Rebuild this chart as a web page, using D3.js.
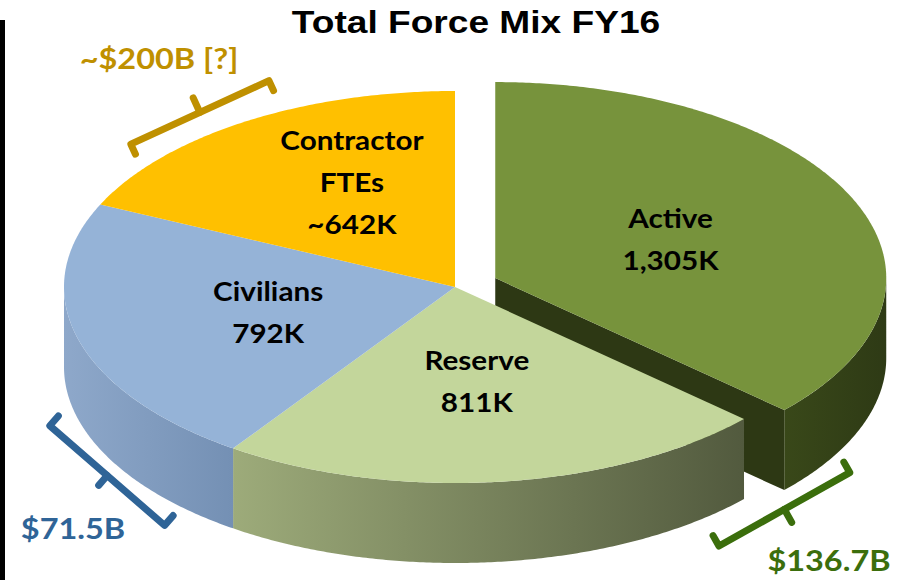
<!DOCTYPE html>
<html>
<head>
<meta charset="utf-8">
<script src="https://cdn.jsdelivr.net/npm/d3@7/dist/d3.min.js"></script>
<style>
  html, body { margin: 0; padding: 0; background: #fff; }
  svg { display: block; }
</style>
</head>
<body>
<svg id="chart" width="908" height="580"></svg>
<script>
// ---- data ----
const titleText = "Total Force Mix FY16";
const categories = ["Active", "Reserve", "Civilians", "Contractor FTEs"];
const nameLines = [["Active"], ["Reserve"], ["Civilians"], ["Contractor", "FTEs"]];
const personnelK = [1305, 811, 792, 642];
const valueLabels = ["1,305K", "811K", "792K", "~642K"];
const costLabels = ["$136.7B", null, "$71.5B", "~$200B [?]"];

// ---- styles ----
const topColors = ["#77933C", "#C3D69B", "#95B3D7", "#FFC000"];
const wallColors = [["#394819", "#2e3a15"], ["#9dab7a", "#525a3e"], ["#8ea8ca", "#7490b4"], ["#e6ad00", "#c79600"]];
const innerFaceColor = "#2d3814";
const costColors = ["#3B6E0C", null, "#2F6497", "#BF9000"];

// ---- layout ----
const cx = 455, cy = 287, rx = 391, ry = 196, depth = 80;
const explodeBy = [44, 0, 0, 0];
const labelRadius = 0.49;
const labelNudge = [[0, 0], [0, -1], [-2, 0], [0, -24]];
const lineGap = 42;
// bracket: angle on rim, outward offset, half length, tick lengths, extra tilt (deg), on lower rim?
const brackets = [
  { i: 0, angle: 134 * Math.PI / 180, off: 17, half: 75, endTick: 12, midTick: 15, tilt: -1.9, lower: true, text: [829, 571] },
  { i: 2, angle: 240 * Math.PI / 180, off: 14, half: 76, endTick: 13, midTick: 13, tilt: 0, lower: true, text: [73, 539] },
  { i: 3, angle: 321 * Math.PI / 180, off: 24, half: 76, endTick: 11, midTick: 16, tilt: -2.6, lower: false, text: [159, 69] }
];

const svg = d3.select("#chart");
const defs = svg.append("defs");

svg.append("rect").attr("x", 0).attr("y", 20).attr("width", 5).attr("height", 560).attr("fill", "#000");

const pie = d3.pie().sort(null).value(d => d).startAngle(0).endAngle(2 * Math.PI);
const arcs = pie(personnelK);
const line = d3.line();

function sliceCenter(i) {
  const a = arcs[i], m = (a.startAngle + a.endAngle) / 2, e = explodeBy[i];
  return [cx + e * Math.sin(m), cy - e * Math.cos(m) * ry / rx];
}
function pt(c, th, r = 1, h = 0) {
  return [c[0] + rx * r * Math.sin(th), c[1] - ry * r * Math.cos(th) + h];
}
function rim(c, a0, a1, h) {
  const n = Math.max(2, Math.ceil((a1 - a0) / (Math.PI / 360)));
  return d3.range(n + 1).map(k => pt(c, a0 + (a1 - a0) * k / n, 1, h));
}

// side wall of the front-facing part of a slice, plus exposed cut faces
function drawSlice(i, g) {
  const a = arcs[i], c = sliceCenter(i);
  const b0 = Math.max(a.startAngle, Math.PI / 2), b1 = Math.min(a.endAngle, 3 * Math.PI / 2);
  if (b1 > b0) {
    const topEdge = rim(c, b0, b1, 0);
    const xs = topEdge.map(p => p[0]);
    const gid = "wall" + i;
    const grad = defs.append("linearGradient").attr("id", gid)
      .attr("gradientUnits", "userSpaceOnUse")
      .attr("x1", d3.min(xs)).attr("x2", d3.max(xs)).attr("y1", 0).attr("y2", 0);
    grad.append("stop").attr("offset", 0).attr("stop-color", wallColors[i][0]);
    grad.append("stop").attr("offset", 1).attr("stop-color", wallColors[i][1]);
    g.append("path")
      .attr("d", line(topEdge.concat(rim(c, b0, b1, depth).reverse())) + "Z")
      .attr("fill", `url(#${gid})`);
  }
  if (explodeBy[i] > 0 && Math.sin(a.endAngle) > 0) {
    const e = pt(c, a.endAngle);
    g.append("path")
      .attr("d", line([c, e, [e[0], e[1] + depth], [c[0], c[1] + depth]]) + "Z")
      .attr("fill", innerFaceColor);
  }
  if (explodeBy[i] > 0 && Math.sin(a.startAngle) < 0) {
    const s = pt(c, a.startAngle);
    g.append("path")
      .attr("d", line([c, s, [s[0], s[1] + depth], [c[0], c[1] + depth]]) + "Z")
      .attr("fill", innerFaceColor);
  }
}
function drawTop(i, g) {
  const a = arcs[i], c = sliceCenter(i);
  g.append("path")
    .attr("d", line([c].concat(rim(c, a.startAngle, a.endAngle, 0))) + "Z")
    .attr("fill", topColors[i]);
}

const pieG = svg.append("g");
const exploded = d3.range(arcs.length).filter(i => explodeBy[i] > 0);
const joined = d3.range(arcs.length).filter(i => explodeBy[i] === 0);
exploded.forEach(i => { drawSlice(i, pieG); drawTop(i, pieG); });
joined.forEach(i => drawSlice(i, pieG));
joined.forEach(i => drawTop(i, pieG));

// ---- text helpers ----
const labelFont = "Lato, 'Open Sans', sans-serif";
function stretchedText(g, x, y, str, size, family, sx, fill) {
  return g.append("text")
    .attr("transform", `translate(${x},${y}) scale(${sx},1)`)
    .attr("text-anchor", "middle")
    .attr("font-family", family)
    .attr("font-weight", "bold")
    .attr("font-size", size)
    .attr("fill", fill)
    .text(str);
}

// slice labels
const labelG = svg.append("g");
arcs.forEach((a, i) => {
  const c = sliceCenter(i);
  const m = (a.startAngle + a.endAngle) / 2;
  const p = pt(c, m, labelRadius);
  const lines = nameLines[i].concat([valueLabels[i]]);
  const x = p[0] + labelNudge[i][0];
  const yMid = p[1] + labelNudge[i][1];
  const capH = 19;
  const firstBase = yMid - ((lines.length - 1) * lineGap) / 2 + capH / 2;
  lines.forEach((s, k) => stretchedText(labelG, x, firstBase + k * lineGap, s, 26.5, labelFont, 1.12, "#000"));
});

// cost brackets
const brG = svg.append("g");
function rotate(v, deg) {
  const r = deg * Math.PI / 180, co = Math.cos(r), si = Math.sin(r);
  return [v[0] * co - v[1] * si, v[0] * si + v[1] * co];
}
brackets.forEach(b => {
  const c = sliceCenter(b.i);
  const h = b.lower ? depth : 0;
  const p0 = pt(c, b.angle, 1, h);
  let n = [Math.sin(b.angle) / rx, -Math.cos(b.angle) / ry];
  const nl = Math.hypot(n[0], n[1]); n = [n[0] / nl, n[1] / nl];
  let t = [rx * Math.cos(b.angle), ry * Math.sin(b.angle)];
  const tl = Math.hypot(t[0], t[1]); t = [t[0] / tl, t[1] / tl];
  const m = [p0[0] + n[0] * b.off, p0[1] + n[1] * b.off];
  t = rotate(t, b.tilt); n = rotate(n, b.tilt);
  const A = [m[0] - t[0] * b.half, m[1] - t[1] * b.half];
  const B = [m[0] + t[0] * b.half, m[1] + t[1] * b.half];
  const col = costColors[b.i];
  const style = sel => sel.attr("fill", "none").attr("stroke", col).attr("stroke-width", 7)
    .attr("stroke-linejoin", "round").attr("stroke-linecap", "round");
  brG.append("path").call(style).attr("d", line([
    [A[0] - n[0] * b.endTick, A[1] - n[1] * b.endTick], A, B,
    [B[0] - n[0] * b.endTick, B[1] - n[1] * b.endTick]
  ]));
  brG.append("path").call(style).attr("d", line([m, [m[0] + n[0] * b.midTick, m[1] + n[1] * b.midTick]]));
  stretchedText(brG, b.text[0], b.text[1], costLabels[b.i], 29, labelFont, 1.12, col);
});

// title
stretchedText(svg, 476, 33, titleText, 32, "'Liberation Sans', Arial, sans-serif", 1.16, "#000");
</script>
</body>
</html>
